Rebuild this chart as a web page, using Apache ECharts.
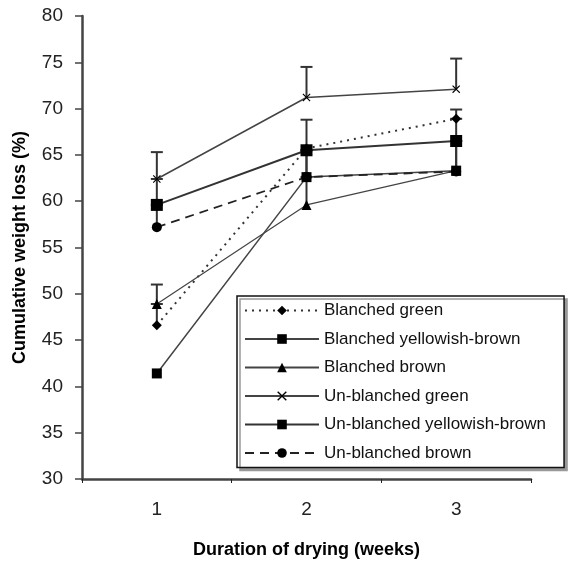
<!DOCTYPE html>
<html>
<head>
<meta charset="utf-8">
<script src="https://cdn.jsdelivr.net/npm/echarts@6/dist/echarts.min.js"></script>
<style>html,body{margin:0;padding:0;background:#fff;}#c{width:569px;height:564px;}</style>
</head>
<body>
<div id="c"></div>
<script>
var weeks = ['1', '2', '3'];
var seriesNames = ['Blanched green', 'Blanched yellowish-brown', 'Blanched brown', 'Un-blanched green', 'Un-blanched yellowish-brown', 'Un-blanched brown'];
var blanchedGreen = [46.6, 65.7, 68.9];
var blanchedYellowishBrown = [41.4, 62.6, 63.3];
var blanchedBrown = [48.9, 59.6, 63.3];
var unblanchedGreen = [62.4, 71.2, 72.1];
var unblanchedYellowishBrown = [59.6, 65.5, 66.5];
var unblanchedBrown = [57.2, 62.6, 63.2];
// upper error bar lengths
var errBlanchedGreen = [2.3, 0, 1.0];
var errBlanchedYellowishBrown = [0, 2.9, 3.2];
var errBlanchedBrown = [2.1, 3.0, 3.2];
var errUnblanchedGreen = [2.9, 3.3, 3.3];
var errUnblanchedYellowishBrown = [2.8, 3.3, 2.4];
var errUnblanchedBrown = [2.4, 2.9, 0];
var yTicks = {min: 30, max: 80, interval: 5};

var values = [blanchedGreen, blanchedYellowishBrown, blanchedBrown, unblanchedGreen, unblanchedYellowishBrown, unblanchedBrown];
var errs = [errBlanchedGreen, errBlanchedYellowishBrown, errBlanchedBrown, errUnblanchedGreen, errUnblanchedYellowishBrown, errUnblanchedBrown];

var styles = [
  {symbol: 'diamond', size: 10, line: {color: '#333', width: 2, type: [2, 5]}},
  {symbol: 'rect', size: 10, line: {color: '#444', width: 1.5, type: 'solid'}},
  {symbol: 'triangle', size: 10, line: {color: '#444', width: 1.2, type: 'solid'}},
  {symbol: 'path://M0,1L1,0L5,4L9,0L10,1L6,5L10,9L9,10L5,6L1,10L0,9L4,5Z', size: 8, line: {color: '#444', width: 1.5, type: 'solid'}},
  {symbol: 'rect', size: 12, line: {color: '#333', width: 2, type: 'solid'}},
  {symbol: 'circle', size: 10, line: {color: '#222', width: 1.8, type: [9, 6]}}
];

var errData = [];
values.forEach(function (vals, s) {
  vals.forEach(function (v, i) {
    if (errs[s][i] > 0) errData.push([i, v, v + errs[s][i]]);
  });
});

var series = [{
  type: 'custom',
  name: 'err',
  z: 1,
  silent: true,
  data: errData,
  renderItem: function (params, api) {
    var lo = api.coord([api.value(0), api.value(1)]);
    var hi = api.coord([api.value(0), api.value(2)]);
    var st = {stroke: '#333', lineWidth: 2};
    return {
      type: 'group',
      children: [
        {type: 'line', shape: {x1: lo[0], y1: lo[1], x2: hi[0], y2: hi[1]}, style: st},
        {type: 'line', shape: {x1: hi[0] - 6, y1: hi[1], x2: hi[0] + 6, y2: hi[1]}, style: st}
      ]
    };
  }
}];

values.forEach(function (vals, s) {
  series.push({
    type: 'line',
    name: seriesNames[s],
    data: vals,
    z: 3,
    symbol: styles[s].symbol,
    symbolSize: styles[s].size,
    showAllSymbol: true,
    lineStyle: styles[s].line,
    itemStyle: {color: '#000', borderWidth: 0},
    emphasis: {disabled: true}
  });
});

var chart = echarts.init(document.getElementById('c'), null, {renderer: 'canvas'});
chart.setOption({
  animation: false,
  backgroundColor: '#fff',
  grid: {left: 82, right: 38, top: 16, bottom: 84},
  legend: {
    data: seriesNames,
    orient: 'vertical',
    left: 237,
    top: 296,
    padding: [6, 18, 6, 7],
    itemWidth: 74,
    itemHeight: 12,
    itemGap: 11.5,
    backgroundColor: '#fff',
    borderColor: '#111',
    borderWidth: 1.5,
    shadowColor: '#999',
    shadowOffsetX: 3,
    shadowOffsetY: 3,
    shadowBlur: 0,
    textStyle: {fontFamily: 'Liberation Sans, Arial', fontSize: 17, color: '#111'},
    selectedMode: false
  },
  xAxis: {
    type: 'category',
    data: weeks,
    boundaryGap: true,
    name: 'Duration of drying (weeks)',
    nameLocation: 'middle',
    nameGap: 62,
    nameTextStyle: {fontFamily: 'Liberation Sans, Arial', fontSize: 18, fontWeight: 'bold', color: '#000'},
    axisLine: {lineStyle: {color: '#444', width: 2.5}},
    axisTick: {show: true, length: 4, lineStyle: {color: '#222', width: 1}},
    axisLabel: {fontFamily: 'Liberation Sans, Arial', fontSize: 19, color: '#222', margin: 21},
    splitLine: {show: false}
  },
  yAxis: {
    type: 'value',
    min: yTicks.min,
    max: yTicks.max,
    interval: yTicks.interval,
    name: 'Cumulative weight loss (%)',
    nameLocation: 'middle',
    nameGap: 53,
    nameRotate: 90,
    nameTextStyle: {fontFamily: 'Liberation Sans, Arial', fontSize: 18, fontWeight: 'bold', color: '#000'},
    axisLine: {show: true, lineStyle: {color: '#444', width: 2.5}},
    axisTick: {show: true, length: 7, lineStyle: {color: '#444', width: 1.5}},
    axisLabel: {fontFamily: 'Liberation Sans, Arial', fontSize: 19, color: '#222', margin: 19},
    splitLine: {show: false}
  },
  series: series
});
</script>
</body>
</html>
